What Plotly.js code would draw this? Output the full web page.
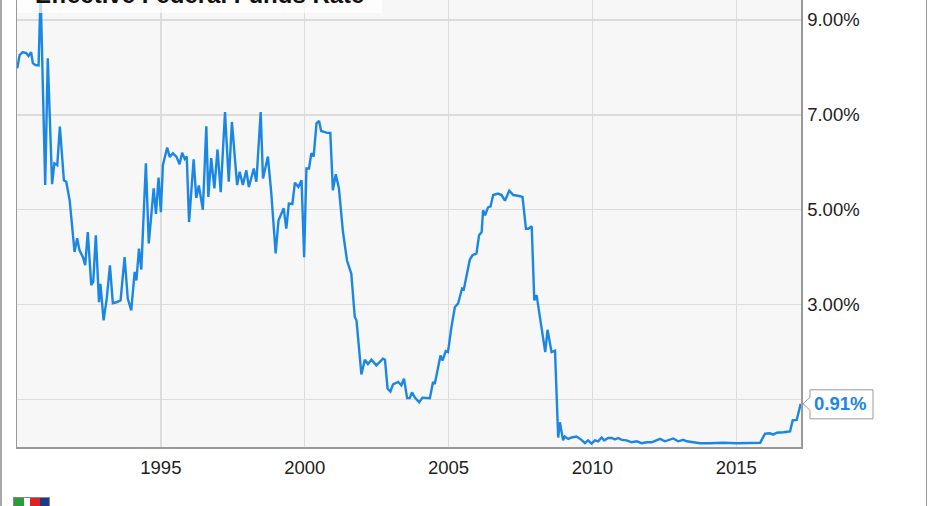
<!DOCTYPE html>
<html>
<head>
<meta charset="utf-8">
<script src="https://cdn.plot.ly/plotly-3.0.1.min.js"></script>
<style>
  html, body { margin:0; padding:0; background:#fff; overflow:hidden; }
  #frame { position:absolute; left:0; top:0; width:927px; height:506px; border-left:2px solid #a8a8a8; border-right:1px solid #999; box-sizing:border-box; pointer-events:none; z-index:5; }
  #chart { position:absolute; left:0; top:0; width:931px; height:506px; }
  #logo { position:absolute; left:13px; top:497px; width:37px; height:12px; border:1px solid #888; box-sizing:border-box; background:linear-gradient(90deg,#2a9d3a 0 30%,#fff 30% 45%,#d22 45% 75%,#1e3a8a 75%); z-index:6; }
</style>
</head>
<body>
<div id="chart"></div>
<div id="frame"></div>
<div id="logo"></div>
<script>
// Effective Federal Funds Rate (%)
const years = [1990.01,1990.09,1990.20,1990.32,1990.40,1990.49,1990.55,1990.64,1990.75,1990.82,
1990.98,1991.07,1991.22,1991.30,1991.40,1991.49,1991.63,1991.71,1991.83,1992.00,
1992.09,1992.17,1992.29,1992.37,1992.46,1992.58,1992.65,1992.74,1992.85,1992.90,
1993.01,1993.12,1993.23,1993.33,1993.45,1993.60,1993.74,1993.85,1993.97,1994.09,
1994.15,1994.24,1994.32,1994.48,1994.58,1994.75,1994.83,1994.92,1995.00,1995.07,
1995.22,1995.31,1995.42,1995.54,1995.65,1995.74,1995.83,1995.90,1995.98,1996.14,
1996.23,1996.32,1996.46,1996.58,1996.65,1996.75,1996.86,1996.97,1997.08,1997.23,
1997.36,1997.47,1997.65,1997.74,1997.85,1997.97,1998.06,1998.23,1998.32,1998.47,
1998.55,1998.72,1998.84,1998.99,1999.09,1999.27,1999.36,1999.45,1999.57,1999.66,
1999.78,1999.89,1999.98,2000.06,2000.15,2000.23,2000.31,2000.41,2000.50,2000.57,
2000.78,2000.89,2000.98,2001.08,2001.19,2001.33,2001.47,2001.62,2001.74,2001.80,
2001.97,2002.09,2002.20,2002.32,2002.49,2002.72,2002.79,2002.88,2002.98,2003.07,
2003.25,2003.36,2003.45,2003.56,2003.65,2003.73,2003.83,2003.98,2004.09,2004.35,
2004.46,2004.52,2004.72,2004.79,2004.90,2004.98,2005.10,2005.22,2005.33,2005.47,
2005.53,2005.74,2005.83,2005.97,2006.06,2006.15,2006.20,2006.27,2006.37,2006.46,
2006.55,2006.72,2006.84,2006.96,2007.11,2007.25,2007.45,2007.57,2007.69,2007.77,
2007.89,2007.98,2008.06,2008.24,2008.36,2008.44,2008.58,2008.70,2008.81,2008.87,
2008.93,2008.98,2009.04,2009.16,2009.28,2009.45,2009.62,2009.74,2009.85,2009.97,
2010.09,2010.20,2010.32,2010.41,2010.55,2010.67,2010.78,2010.90,2011.02,2011.19,
2011.36,2011.54,2011.71,2011.89,2012.06,2012.23,2012.35,2012.52,2012.70,2012.81,
2012.98,2013.16,2013.28,2013.45,2013.74,2014.09,2014.55,2015.02,2015.48,2015.83,
2016.00,2016.17,2016.28,2016.41,2016.64,2016.87,2016.96,2017.10,2017.24];

const rates = [7.98,8.26,8.32,8.30,8.24,8.32,8.09,8.05,8.04,9.6,
5.52,8.19,5.54,5.98,5.94,6.75,5.62,5.59,5.20,4.11,
4.40,4.15,4.00,3.83,4.53,3.41,3.48,4.46,3.05,3.44,
2.67,3.13,3.83,3.03,3.05,3.09,4.00,3.13,2.88,3.69,
3.51,4.18,3.74,5.98,4.29,5.45,4.91,5.68,4.95,5.94,
6.31,6.11,6.19,6.12,5.96,6.20,6.07,6.12,4.74,6.06,
5.25,5.51,5.00,6.76,5.27,6.09,5.45,6.27,5.37,7.06,
5.59,6.85,5.52,5.80,5.52,5.83,5.48,5.87,5.59,7.06,
5.66,6.12,5.34,4.08,4.78,5.03,4.60,5.13,5.12,5.57,
5.48,5.62,4.00,5.87,5.87,6.19,6.12,6.82,6.87,6.66,
6.62,6.62,5.41,5.75,5.45,4.53,3.93,3.65,2.74,2.67,
1.53,1.84,1.75,1.84,1.72,1.86,1.84,1.23,1.17,1.32,
1.37,1.30,1.44,1.03,1.03,1.15,1.04,0.94,1.04,1.03,
1.37,1.33,1.93,1.82,2.02,2.00,2.53,2.95,3.02,3.34,
3.32,3.95,4.04,4.08,4.46,4.53,4.99,4.88,5.05,5.07,
5.31,5.34,5.31,5.19,5.40,5.31,5.29,5.27,4.60,4.60,
4.65,3.09,3.20,2.42,2.00,2.47,2.00,2.03,0.20,0.52,
0.31,0.14,0.22,0.17,0.20,0.22,0.15,0.08,0.14,0.07,
0.14,0.12,0.20,0.14,0.19,0.19,0.16,0.19,0.15,0.14,
0.10,0.12,0.08,0.10,0.10,0.14,0.17,0.12,0.15,0.18,
0.12,0.15,0.12,0.10,0.08,0.08,0.09,0.08,0.08,0.09,
0.28,0.29,0.26,0.30,0.31,0.33,0.56,0.57,0.91];

const xTickVals = [1995, 2000, 2005, 2010, 2015];
const xTickText = ['1995', '2000', '2005', '2010', '2015'];
const yTickVals = [1, 3, 5, 7, 9];
const yTickText = ['', '3.00%', '5.00%', '7.00%', '9.00%'];
const chartTitle = 'Effective Federal Funds Rate';

const lastRate = rates[rates.length - 1];
const lastLabel = lastRate.toFixed(2) + '%';
const blue = '#1a87e4';
const font = 'Liberation Sans, Arial, sans-serif';

const trace = {
  x: years, y: rates, type: 'scatter', mode: 'lines',
  line: { color: blue, width: 2.4 },
  hoverinfo: 'skip'
};

const layout = {
  width: 931, height: 506,
  margin: { l: 17, r: 130, t: 0, b: 59, pad: 0 },
  paper_bgcolor: '#ffffff',
  plot_bgcolor: '#f7f7f7',
  showlegend: false,
  font: { family: font, color: '#222', size: 18.5 },
  xaxis: {
    range: [1990, 2017.25],
    tickvals: xTickVals, ticktext: xTickText,
    showgrid: true, gridcolor: '#dcdcdc', gridwidth: 1.5,
    zeroline: false, showline: true, linecolor: '#999', linewidth: 1.5,
    ticks: '', ticklabelstandoff: 3,
    tickfont: { family: font, size: 18.5, color: '#222' }
  },
  yaxis: {
    side: 'right',
    range: [0, 9.42],
    tickvals: yTickVals, ticktext: yTickText,
    showgrid: true, gridcolor: '#dcdcdc', gridwidth: 1.5,
    zeroline: false, showline: true, mirror: true, linecolor: '#999', linewidth: 1.5,
    ticks: '', ticklabelstandoff: 1,
    tickfont: { family: font, size: 18.5, color: '#222' }
  },
  shapes: [
    { type: 'rect', layer: 'above', xref: 'paper', yref: 'paper',
      xsizemode: 'pixel', xanchor: 0, x0: 0, x1: 365,
      ysizemode: 'pixel', yanchor: 1, y0: -13, y1: 20,
      fillcolor: 'rgba(255,255,255,0.72)', line: { width: 0 } },
    { type: 'path', layer: 'above', xref: 'paper', yref: 'y',
      xsizemode: 'pixel', xanchor: 1, ysizemode: 'pixel', yanchor: lastRate,
      path: 'M 2 0 L 9 6.5 L 9 14 L 72 14 L 72 -15 L 9 -15 L 9 -6.5 Z',
      fillcolor: '#ffffff', line: { color: '#9a9a9a', width: 1 } }
  ],
  annotations: [
    { text: chartTitle, xref: 'paper', yref: 'paper', x: 0, y: 1,
      xanchor: 'left', yanchor: 'bottom', xshift: 17, yshift: -9,
      showarrow: false, borderpad: 0,
      font: { family: font, size: 24, color: '#111', weight: 'bold' } },
    { text: '<b>' + lastLabel + '</b>', xref: 'paper', yref: 'y', x: 1, y: lastRate,
      xanchor: 'left', yanchor: 'middle', xshift: 12, showarrow: false, borderpad: 0,
      font: { family: font, size: 18.5, color: blue } }
  ]
};

Plotly.newPlot('chart', [trace], layout, { staticPlot: true, displayModeBar: false });
</script>
</body>
</html>
